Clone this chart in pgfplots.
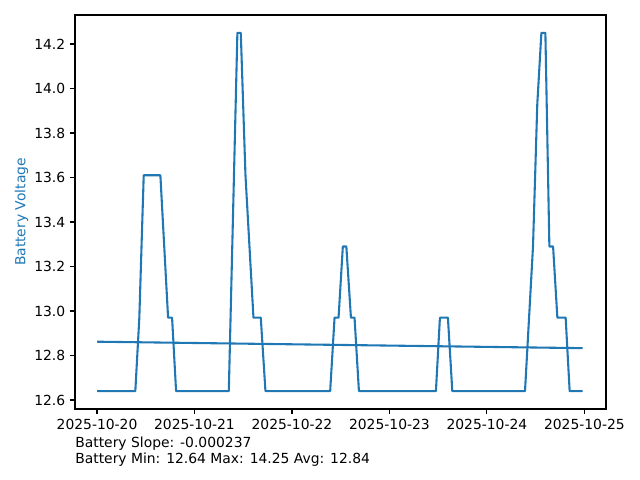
\documentclass[border=0pt]{standalone}
\usepackage{fontspec}
\setmainfont{DejaVu Sans}
\usepackage{pgfplots}
\pgfplotsset{compat=1.18}
\definecolor{mplblue}{HTML}{1F77B4}
\begin{document}
\begin{tikzpicture}
\path[use as bounding box] (0,0) rectangle (460.8pt,345.6pt);
\begin{axis}[
  at={(54pt,51.12pt)}, anchor=south west,
  scale only axis, width=382.32pt, height=283.68pt,
  xmin=-0.226, xmax=5.222, ymin=12.5595, ymax=14.3305,
  xtick={0,1,2,3,4,5},
  xticklabels={2025-10-20,2025-10-21,2025-10-22,2025-10-23,2025-10-24,2025-10-25},
  ytick={12.6,12.8,13.0,13.2,13.4,13.6,13.8,14.0,14.2},
  yticklabel style={/pgf/number format/.cd,fixed,fixed zerofill,precision=1},
  /pgf/number format/assume math mode=true,
  tick align=outside, major tick length=3.5pt,
  every tick/.style={black, line width=0.8pt},
  axis line style={line width=0.8pt},
  xtick pos=bottom, ytick pos=left,
  tick label style={font=\fontsize{10}{12}\selectfont},
  ylabel={Battery Voltage},
  ylabel style={color=mplblue, font=\fontsize{10}{12}\selectfont, yshift=-2.5pt},
  clip=false,
]
\addplot[mplblue, line width=1.5pt, line join=round] coordinates {
(0,12.64) (0.393,12.64) (0.434,12.97) (0.479,13.61) (0.65,13.61) (0.729,12.97) (0.77,12.97) (0.811,12.64)
(1.352,12.64) (1.44,14.25) (1.475,14.25) (1.523,13.61) (1.605,12.97) (1.68,12.97) (1.728,12.64)
(2.392,12.64) (2.437,12.97) (2.478,12.97) (2.522,13.29) (2.558,13.29) (2.605,12.97) (2.642,12.97) (2.687,12.64)
(3.477,12.64) (3.518,12.97) (3.6,12.97) (3.645,12.64)
(4.391,12.64) (4.473,13.29) (4.517,13.93) (4.559,14.25) (4.6,14.25) (4.641,13.29) (4.679,13.29) (4.723,12.97) (4.808,12.97) (4.849,12.64) (4.983,12.64)
};
\addplot[mplblue, line width=1.5pt] coordinates {(0,12.862) (4.983,12.833)};
\end{axis}
\node[anchor=base west, inner sep=0pt, font=\fontsize{10}{12}\selectfont] at (54pt,23.7pt) {Battery Slope: -0.000237};
\node[anchor=base west, inner sep=0pt, font=\fontsize{10}{12}\selectfont] at (54pt,12.1pt) {Battery Min: 12.64 Max: 14.25 Avg: 12.84};
\end{tikzpicture}
\end{document}
